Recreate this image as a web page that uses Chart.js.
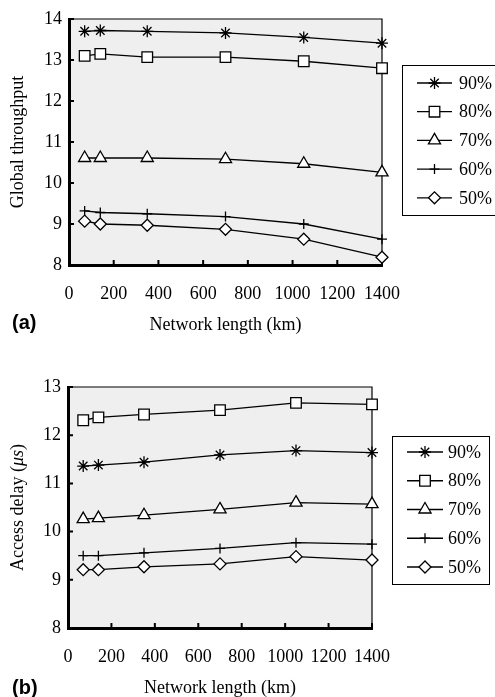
<!DOCTYPE html>
<html>
<head>
<meta charset="utf-8">
<script src="https://cdn.jsdelivr.net/npm/chart.js@4/dist/chart.umd.min.js"></script>
<style>
  html, body { margin: 0; padding: 0; background: #fff; }
  #page { position: relative; width: 495px; height: 697px; overflow: hidden; }
  canvas { position: absolute; left: 0; }
  .panel { position: absolute; left: 12px; font: bold 20px "Liberation Sans", Arial, sans-serif; color: #000; }
</style>
</head>
<body>
<div id="page">
  <canvas id="chartA" width="495" height="340" style="top:0"></canvas>
  <canvas id="chartB" width="495" height="357" style="top:340px"></canvas>
  <div class="panel" style="top:311px">(a)</div>
  <div class="panel" style="top:676px">(b)</div>
</div>
<script>
// network length (km)
const lengths = [70, 140, 350, 700, 1050, 1400];
const seriesLabels = ['90%', '80%', '70%', '60%', '50%'];
const pointStyles = ['star', 'rect', 'triangle', 'cross', 'rectRot'];
const pointSizes = [6, 7.5, 7, 5, 6];

// (a) global throughput
const throughput90 = [13.70, 13.72, 13.70, 13.66, 13.55, 13.41];
const throughput80 = [13.10, 13.15, 13.07, 13.07, 12.97, 12.80];
const throughput70 = [10.61, 10.61, 10.61, 10.58, 10.47, 10.26];
const throughput60 = [9.32, 9.28, 9.25, 9.18, 9.00, 8.63];
const throughput50 = [9.07, 9.00, 8.97, 8.87, 8.63, 8.19];

// (b) access delay (us)
const delay90 = [11.36, 11.38, 11.44, 11.59, 11.68, 11.64];
const delay80 = [12.31, 12.37, 12.43, 12.52, 12.67, 12.64];
const delay70 = [10.26, 10.28, 10.34, 10.46, 10.60, 10.57];
const delay60 = [9.50, 9.50, 9.56, 9.65, 9.77, 9.74];
const delay50 = [9.21, 9.21, 9.27, 9.33, 9.48, 9.41];

const serif = '"Liberation Serif", "Times New Roman", serif';

function makeDatasets(series) {
  return series.map((vals, i) => ({
    label: seriesLabels[i],
    data: vals.map((v, j) => ({ x: lengths[j], y: v })),
    borderColor: '#000',
    borderWidth: 1.3,
    backgroundColor: '#fff',
    pointStyle: pointStyles[i],
    pointRadius: pointSizes[i],
    pointBorderWidth: 1.3,
    pointBorderColor: '#000',
    pointBackgroundColor: '#fff',
    tension: 0,
    clip: false
  }));
}

// grey plot area, thin top/right frame, inside tick marks
const framePlugin = {
  id: 'frame',
  beforeDraw(chart) {
    const { ctx, chartArea: a } = chart;
    ctx.save();
    ctx.fillStyle = '#efefef';
    ctx.fillRect(a.left, a.top, a.right - a.left, a.bottom - a.top);
    ctx.restore();
  },
  beforeDatasetsDraw(chart) {
    const { ctx, chartArea: a, scales } = chart;
    ctx.save();
    ctx.strokeStyle = '#000';
    ctx.lineWidth = 1.2;
    ctx.beginPath();
    ctx.moveTo(a.left, a.top);
    ctx.lineTo(a.right, a.top);
    ctx.lineTo(a.right, a.bottom);
    ctx.stroke();
    ctx.lineWidth = 2;
    ctx.beginPath();
    scales.x.ticks.forEach(t => {
      const px = scales.x.getPixelForValue(t.value);
      ctx.moveTo(px, a.bottom);
      ctx.lineTo(px, a.bottom - 5);
    });
    scales.y.ticks.forEach(t => {
      const py = scales.y.getPixelForValue(t.value);
      ctx.moveTo(a.left, py);
      ctx.lineTo(a.left + 5, py);
    });
    ctx.stroke();
    ctx.restore();
  }
};

// rotated y title, parts may be italic
const yTitlePlugin = {
  id: 'yTitle',
  afterDraw(chart, args, opts) {
    const { ctx, chartArea: a } = chart;
    const fonts = opts.parts.map(p => (p.italic ? 'italic ' : '') + '18px ' + serif);
    ctx.save();
    let total = 0;
    opts.parts.forEach((p, i) => { ctx.font = fonts[i]; total += ctx.measureText(p.text).width; });
    ctx.translate(opts.x, (a.top + a.bottom) / 2);
    ctx.rotate(-Math.PI / 2);
    ctx.fillStyle = '#000';
    ctx.textBaseline = 'middle';
    ctx.textAlign = 'left';
    let cx = -total / 2;
    opts.parts.forEach((p, i) => {
      ctx.font = fonts[i];
      ctx.fillText(p.text, cx, 0);
      cx += ctx.measureText(p.text).width;
    });
    ctx.restore();
  }
};

// boxed legend with line + marker samples
const boxLegendPlugin = {
  id: 'boxLegend',
  afterDraw(chart, args, opts) {
    const { ctx } = chart;
    ctx.save();
    ctx.strokeStyle = '#000';
    ctx.lineWidth = 1;
    ctx.fillStyle = '#fff';
    ctx.fillRect(opts.x, opts.y, opts.w, opts.h);
    ctx.strokeRect(opts.x + 0.5, opts.y + 0.5, opts.w, opts.h);
    ctx.font = '18px ' + serif;
    ctx.textBaseline = 'middle';
    chart.data.datasets.forEach((ds, i) => {
      const yy = opts.y + opts.first + i * opts.step;
      const x0 = opts.x + opts.lineStart;
      const x1 = x0 + opts.lineLen;
      ctx.strokeStyle = '#000';
      ctx.lineWidth = 1.3;
      ctx.beginPath();
      ctx.moveTo(x0, yy);
      ctx.lineTo(x1, yy);
      ctx.stroke();
      ctx.fillStyle = '#fff';
      Chart.helpers.drawPoint(ctx, {
        pointStyle: ds.pointStyle,
        radius: ds.pointRadius,
        borderWidth: 1.3,
        rotation: 0
      }, (x0 + x1) / 2, yy);
      ctx.fillStyle = '#000';
      ctx.fillText(ds.label, opts.x + opts.textStart, yy + 1);
    });
    ctx.restore();
  }
};

function makeChart(canvas, series, cfg) {
  return new Chart(canvas, {
    type: 'line',
    data: { datasets: makeDatasets(series) },
    plugins: [framePlugin, yTitlePlugin, boxLegendPlugin],
    options: {
      responsive: false,
      animation: false,
      events: [],
      layout: { padding: cfg.padding },
      plugins: {
        legend: { display: false },
        tooltip: { enabled: false },
        boxLegend: cfg.legend,
        yTitle: { x: 18, parts: cfg.yTitle }
      },
      scales: {
        x: {
          type: 'linear',
          min: 0,
          max: 1400,
          afterFit: s => { s.height = cfg.xHeight; },
          border: { display: true, color: '#000', width: 3 },
          grid: { display: false, drawTicks: false },
          ticks: {
            stepSize: 200, autoSkip: false, color: '#000', padding: 18, maxRotation: 0,
            font: { family: serif, size: 18 },
            callback: v => String(v)
          },
          title: {
            display: true,
            text: 'Network length (km)',
            color: '#000',
            font: { family: serif, size: 18, lineHeight: 1 },
            padding: { top: 0, bottom: cfg.xTitlePad }
          }
        },
        y: {
          min: cfg.yMin,
          max: cfg.yMax,
          afterFit: s => { s.width = cfg.yWidth; },
          border: { display: true, color: '#000', width: 3 },
          grid: { display: false, drawTicks: false },
          ticks: {
            stepSize: 1, autoSkip: false, color: '#000', padding: 7,
            font: { family: serif, size: 18 },
            callback: v => String(v)
          }
        }
      }
    }
  });
}

makeChart(document.getElementById('chartA'),
  [throughput90, throughput80, throughput70, throughput60, throughput50], {
    padding: { left: 0, right: 113, top: 19, bottom: 0 },
    xHeight: 75,
    yWidth: 69,
    xTitlePad: 6,
    yMin: 8, yMax: 14,
    yTitle: [{ text: 'Global throughput' }],
    legend: { x: 402, y: 65, w: 100, h: 150, first: 18, step: 28.7, lineStart: 15, lineLen: 35, textStart: 57 }
  });

makeChart(document.getElementById('chartB'),
  [delay90, delay80, delay70, delay60, delay50], {
    padding: { left: 0, right: 123, top: 47, bottom: 0 },
    xHeight: 69,
    yWidth: 68,
    xTitlePad: 0,
    yMin: 8, yMax: 13,
    yTitle: [{ text: 'Access delay (' }, { text: '\u03bcs', italic: true }, { text: ')' }],
    legend: { x: 392, y: 96, w: 97, h: 148, first: 16, step: 28.75, lineStart: 15, lineLen: 36, textStart: 56 }
  });
</script>
</body>
</html>
